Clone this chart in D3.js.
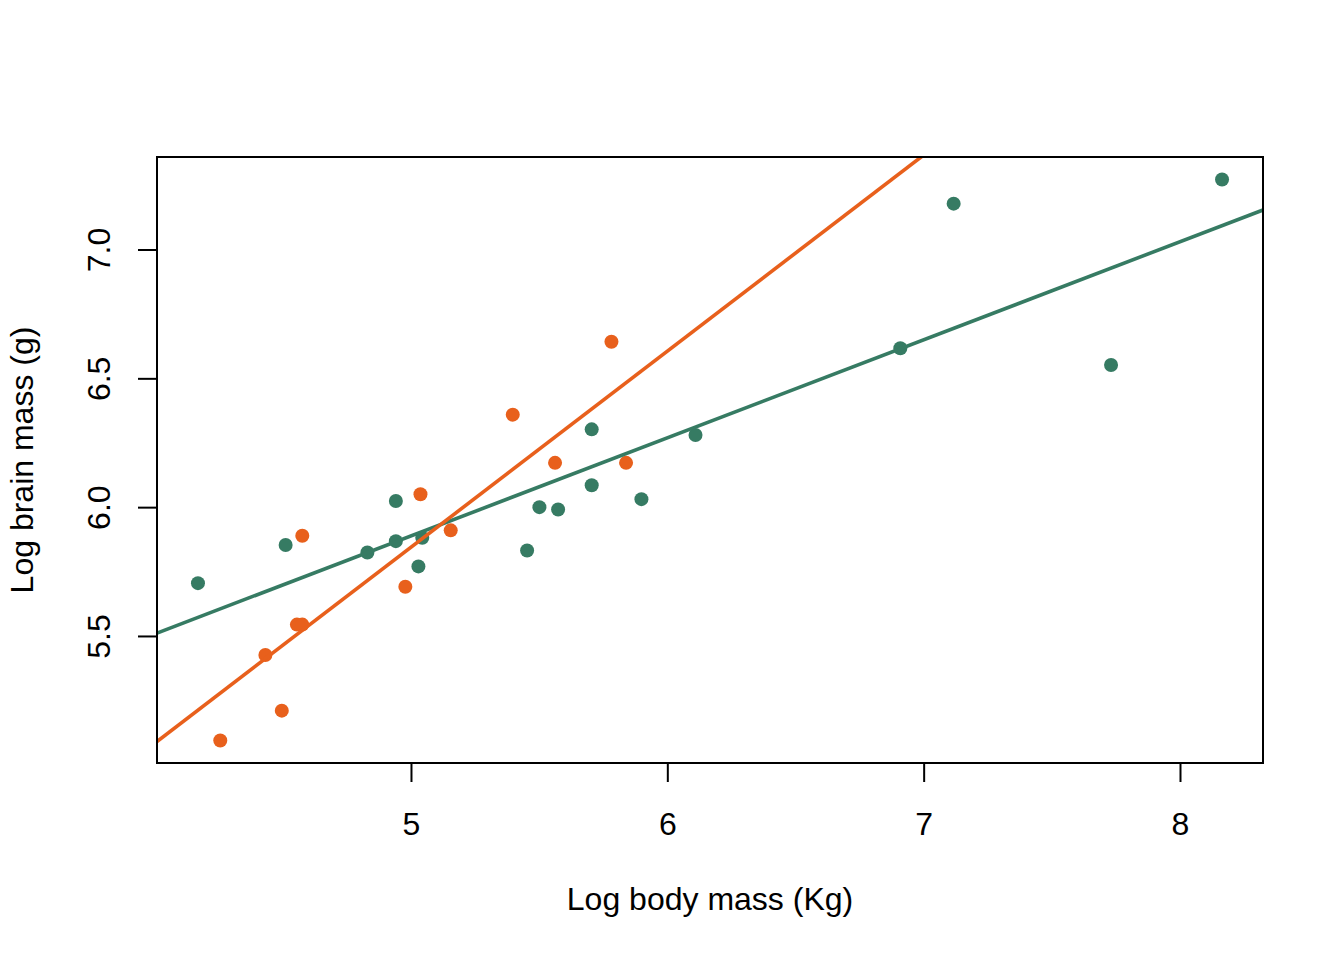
<!DOCTYPE html>
<html>
<head>
<meta charset="utf-8">
<script src="https://cdn.jsdelivr.net/npm/d3@7"></script>
<style>
  html, body { margin: 0; padding: 0; background: #ffffff; }
  svg { display: block; }
  text { font-family: "Liberation Sans", Arial, Helvetica, sans-serif; fill: #000; }
</style>
</head>
<body>
<svg id="chart" width="1344" height="960"></svg>
<script>
// Green group
const greenX = [4.169, 4.511, 4.830, 4.941, 4.941, 5.044, 5.029, 5.453, 5.501, 5.574, 5.705, 5.705, 5.899, 6.110, 6.909, 7.117, 7.731, 8.164];
const greenY = [5.705, 5.853, 5.824, 6.024, 5.868, 5.881, 5.770, 5.832, 6.000, 5.991, 6.302, 6.085, 6.031, 6.280, 6.617, 7.178, 6.552, 7.272];
// Orange group
const orangeX = [4.256, 4.432, 4.496, 4.555, 4.576, 4.576, 4.978, 5.037, 5.155, 5.397, 5.562, 5.782, 5.839];
const orangeY = [5.094, 5.426, 5.210, 5.544, 5.544, 5.889, 5.691, 6.050, 5.910, 6.359, 6.172, 6.642, 6.172];

const xTicks = [5, 6, 7, 8];
const yTicks = [5.5, 6.0, 6.5, 7.0];
const xTitle = "Log body mass (Kg)";
const yTitle = "Log brain mass (g)";

const greenColor = "#367B63";
const orangeColor = "#E8601C";

const svg = d3.select("#chart");
const pLeft = 157, pRight = 1263, pTop = 157, pBottom = 763;

function padded(arr) {
  const [lo, hi] = d3.extent(arr);
  const r = hi - lo;
  return [lo - 0.04 * r, hi + 0.04 * r];
}
const allX = greenX.concat(orangeX);
const allY = greenY.concat(orangeY);
const x = d3.scaleLinear().domain(padded(allX)).range([pLeft, pRight]);
const y = d3.scaleLinear().domain(padded(allY)).range([pBottom, pTop]);

function fit(xs, ys) {
  const mx = d3.mean(xs), my = d3.mean(ys);
  let sxy = 0, sxx = 0;
  xs.forEach((v, i) => { sxy += (v - mx) * (ys[i] - my); sxx += (v - mx) * (v - mx); });
  const b = sxy / sxx;
  return { a: my - b * mx, b };
}

svg.append("defs").append("clipPath").attr("id", "clip")
  .append("rect").attr("x", pLeft).attr("y", pTop).attr("width", pRight - pLeft).attr("height", pBottom - pTop);

const plot = svg.append("g").attr("clip-path", "url(#clip)");

const groups = [
  { xs: greenX, ys: greenY, color: greenColor },
  { xs: orangeX, ys: orangeY, color: orangeColor }
];

groups.forEach(g => {
  const pts = g.xs.map((v, i) => [v, g.ys[i]]);
  plot.append("g").selectAll("circle").data(pts).join("circle")
    .attr("cx", d => x(d[0])).attr("cy", d => y(d[1]))
    .attr("r", 7).attr("fill", g.color);
});

groups.forEach(g => {
  const f = fit(g.xs, g.ys);
  const [x0, x1] = x.domain();
  plot.append("line")
    .attr("x1", x(x0)).attr("y1", y(f.a + f.b * x0))
    .attr("x2", x(x1)).attr("y2", y(f.a + f.b * x1))
    .attr("stroke", g.color).attr("stroke-width", 3.6);
});

// Frame
svg.append("rect").attr("x", pLeft).attr("y", pTop)
  .attr("width", pRight - pLeft).attr("height", pBottom - pTop)
  .attr("fill", "none").attr("stroke", "#000").attr("stroke-width", 2);

// X axis
const xAxis = svg.append("g").attr("transform", `translate(0,${pBottom})`)
  .call(d3.axisBottom(x).tickValues(xTicks).tickSize(19).tickPadding(0).tickFormat(d3.format("d")));
xAxis.select(".domain").attr("d", `M${x(xTicks[0])},0H${x(xTicks[xTicks.length-1])}`).attr("stroke-width", 2);
xAxis.selectAll(".tick line").attr("stroke-width", 2);
xAxis.selectAll(".tick text").attr("y", 72).attr("dy", null).attr("font-size", 32)
  .style("font-family", '"Liberation Sans", Arial, sans-serif').attr("fill", "#000");

// Y axis
const yAxis = svg.append("g").attr("transform", `translate(${pLeft},0)`)
  .call(d3.axisLeft(y).tickValues(yTicks).tickSize(19).tickFormat(d3.format(".1f")));
yAxis.select(".domain").attr("d", `M0,${y(yTicks[0])}V${y(yTicks[yTicks.length-1])}`).attr("stroke-width", 2);
yAxis.selectAll(".tick line").attr("stroke-width", 2);
yAxis.selectAll(".tick text")
  .attr("x", null).attr("dy", null)
  .attr("text-anchor", "middle")
  .attr("transform", "translate(-47,0) rotate(-90)")
  .attr("font-size", 32)
  .style("font-family", '"Liberation Sans", Arial, sans-serif').attr("fill", "#000");

// Titles
svg.append("text").attr("x", (pLeft + pRight) / 2).attr("y", 910)
  .attr("text-anchor", "middle").attr("font-size", 32).text(xTitle);
svg.append("text").attr("transform", `translate(33,${(pTop + pBottom) / 2}) rotate(-90)`)
  .attr("text-anchor", "middle").attr("font-size", 32).text(yTitle);
</script>
</body>
</html>
